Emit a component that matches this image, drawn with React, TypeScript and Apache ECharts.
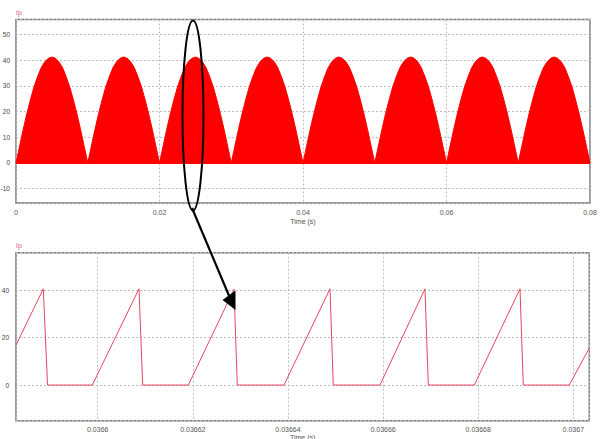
import React, { useEffect, useRef } from "react";
import * as echarts from "echarts";

// Upper plot: inductor/switch current envelope Ip (A) vs time (s), sampled every 0.5 ms
const topTimeStep = 0.0005;
const topCurrent = [
  0, 6.5, 13, 19, 24.5, 29.5, 33.5, 37, 39.3, 40.7, 41.2, 40.7, 39.3, 37, 33.5, 29.5, 24.5, 19, 13, 6.5,
  0, 6.5, 13, 19, 24.5, 29.5, 33.5, 37, 39.3, 40.7, 41.2, 40.7, 39.3, 37, 33.5, 29.5, 24.5, 19, 13, 6.5,
  0, 6.5, 13, 19, 24.5, 29.5, 33.5, 37, 39.3, 40.7, 41.2, 40.7, 39.3, 37, 33.5, 29.5, 24.5, 19, 13, 6.5,
  0, 6.5, 13, 19, 24.5, 29.5, 33.5, 37, 39.3, 40.7, 41.2, 40.7, 39.3, 37, 33.5, 29.5, 24.5, 19, 13, 6.5,
  0, 6.5, 13, 19, 24.5, 29.5, 33.5, 37, 39.3, 40.7, 41.2, 40.7, 39.3, 37, 33.5, 29.5, 24.5, 19, 13, 6.5,
  0, 6.5, 13, 19, 24.5, 29.5, 33.5, 37, 39.3, 40.7, 41.2, 40.7, 39.3, 37, 33.5, 29.5, 24.5, 19, 13, 6.5,
  0, 6.5, 13, 19, 24.5, 29.5, 33.5, 37, 39.3, 40.7, 41.2, 40.7, 39.3, 37, 33.5, 29.5, 24.5, 19, 13, 6.5,
  0, 6.5, 13, 19, 24.5, 29.5, 33.5, 37, 39.3, 40.7, 41.2, 40.7, 39.3, 37, 33.5, 29.5, 24.5, 19, 13, 6.5,
  0,
];

// Lower plot: zoomed switching waveform Ip (A) vs time (s)
const zoomTime = [
  0.03658282, 0.03658856, 0.03658945, 0.03659886,
  0.03660868, 0.03660946, 0.03661905,
  0.03662866, 0.03662935, 0.03663917,
  0.03664884, 0.03664953, 0.03665935,
  0.03666881, 0.03666951, 0.03667918,
  0.03668879, 0.03668948, 0.03669915,
  0.03670336,
];
const zoomCurrent = [
  16.8, 40.5, 0, 0,
  40.5, 0, 0,
  40.3, 0, 0,
  40.5, 0, 0,
  40.5, 0, 0,
  40.5, 0, 0,
  15.6,
];

const topXRange = [0, 0.08];
const topYRange = [-15.6, 55.8];
const zoomXRange = [0.03658282, 0.03670336];
const zoomYRange = [-15, 55.7];

const FONT = "Liberation Sans";
const gridLine = { show: true, lineStyle: { color: "#bdbdbd", type: [2, 2] as any, width: 1 } };
const labelStyle = { fontSize: 7, color: "#555", fontFamily: FONT };

function multipleFormatter(step: number, digits: number) {
  return (v: number) => {
    const r = v / step;
    if (Math.abs(r - Math.round(r)) > 1e-4) return "";
    return String(+(Math.round(r) * step).toFixed(digits));
  };
}

export default function App() {
  const ref = useRef<HTMLDivElement>(null);
  useEffect(() => {
    const chart = echarts.init(ref.current!, null, { renderer: "svg", width: 605, height: 439 });
    const option: any = {
      animation: false,
      backgroundColor: "#fff",
      textStyle: { fontFamily: FONT },
      grid: [
        {
          left: 16, top: 19.5, width: 574, height: 183.5, show: true, borderColor: "#7a7a7a", borderWidth: 1.5,
          containLabel: false, outerBoundsMode: "none",
        },
        {
          left: 16, top: 252.7, width: 573.3, height: 168, show: true, borderColor: "#7a7a7a", borderWidth: 1.5,
          containLabel: false, outerBoundsMode: "none",
        },
      ],
      xAxis: [
        {
          type: "value",
          gridIndex: 0,
          min: topXRange[0],
          max: topXRange[1],
          interval: 0.02,
          axisLine: { show: false },
          axisTick: { show: false },
          axisLabel: { ...labelStyle, margin: 6, formatter: multipleFormatter(0.02, 2) },
          splitLine: gridLine,
          name: "Time (s)",
          nameLocation: "middle",
          nameGap: 15,
          nameTextStyle: { ...labelStyle },
        },
        {
          type: "value",
          gridIndex: 1,
          min: zoomXRange[0],
          max: zoomXRange[1],
          splitNumber: 5,
          axisLine: { show: false },
          axisTick: { show: false },
          axisLabel: { ...labelStyle, margin: 5, formatter: multipleFormatter(0.00002, 5) },
          splitLine: gridLine,
          name: "Time (s)",
          nameLocation: "middle",
          nameGap: 12,
          nameTextStyle: { ...labelStyle },
        },
      ],
      yAxis: [
        {
          type: "value",
          gridIndex: 0,
          min: topYRange[0],
          max: topYRange[1],
          splitNumber: 7,
          axisLine: { show: false },
          axisTick: { show: false },
          axisLabel: { ...labelStyle, fontSize: 6.5, color: "#444", margin: 6, formatter: multipleFormatter(10, 0) },
          splitLine: gridLine,
        },
        {
          type: "value",
          gridIndex: 1,
          min: zoomYRange[0],
          max: zoomYRange[1],
          splitNumber: 3,
          axisLine: { show: false },
          axisTick: { show: false },
          axisLabel: { ...labelStyle, fontSize: 6.5, color: "#444", margin: 7, formatter: multipleFormatter(20, 0) },
          splitLine: gridLine,
        },
      ],
      series: [
        {
          type: "line",
          xAxisIndex: 0,
          yAxisIndex: 0,
          data: topCurrent.map((v, i) => [i * topTimeStep, v]),
          showSymbol: false,
          lineStyle: { color: "#ff0000", width: 1 },
          areaStyle: { color: "#ff0000", opacity: 1 },
          markLine: {
            silent: true,
            symbol: "none",
            label: { show: false },
            lineStyle: { color: "#ff0000", width: 2, type: "solid" },
            data: [{ yAxis: 0 }],
          },
        },
        {
          type: "line",
          xAxisIndex: 1,
          yAxisIndex: 1,
          data: zoomTime.map((t, i) => [t, zoomCurrent[i]]),
          showSymbol: false,
          lineStyle: { color: "#e8455f", width: 1 },
        },
      ],
      graphic: [
        { type: "text", left: 16, top: 8.5, style: { text: "Ip", fontSize: 7, fill: "#e0607a", fontFamily: FONT } },
        { type: "text", left: 16, top: 241.5, style: { text: "Ip", fontSize: 7, fill: "#e0607a", fontFamily: FONT } },
        {
          type: "ellipse",
          shape: { cx: 193, cy: 115.5, rx: 10.5, ry: 95 },
          style: { fill: "none", stroke: "#000", lineWidth: 2 },
          z: 100,
        },
        {
          type: "line",
          shape: { x1: 192, y1: 208, x2: 230, y2: 298 },
          style: { stroke: "#000", lineWidth: 2.2 },
          z: 100,
        },
        {
          type: "polygon",
          shape: { points: [[222.5, 300], [235.5, 290.5], [235.5, 310]] },
          style: { fill: "#000" },
          z: 100,
        },
      ],
    };
    chart.setOption(option);
    return () => chart.dispose();
  }, []);
  return (
    <div
      ref={ref}
      style={{ position: "fixed", left: 0, top: 0, width: 605, height: 439, background: "#fff" }}
    />
  );
}
